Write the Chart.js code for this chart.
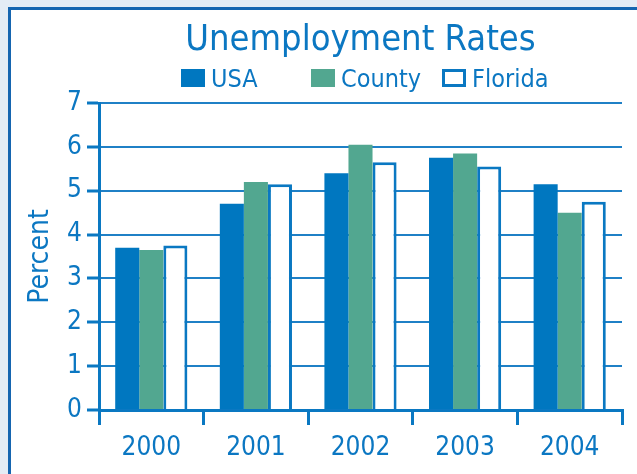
<!DOCTYPE html>
<html><head><meta charset="utf-8">
<script src="https://cdn.jsdelivr.net/npm/chart.js@4"></script>
<style>
html,body{margin:0;padding:0;background:#e4ecf5;overflow:hidden}
#wrap{position:absolute;left:0;top:0;width:637px;height:474px}
</style></head>
<body><div id="wrap"><canvas id="c" width="637" height="474"></canvas></div>
<script>
const categories = ['2000','2001','2002','2003','2004'];
const seriesNames = ['USA','County','Florida'];
const usaValues = [3.7, 4.7, 5.4, 5.75, 5.15];
const countyValues = [3.65, 5.2, 6.05, 5.85, 4.5];
const floridaValues = [3.75, 5.15, 5.65, 5.55, 4.75];
const yTickValues = [0,1,2,3,4,5,6,7];
const titleText = 'Unemployment Rates';
const yAxisTitle = 'Percent';

const FONT = "'Liberation Sans Narrow', 'DejaVu Sans Condensed', 'Arial Narrow', sans-serif";
const BLUE = '#0a78c2';
const TEXT = '#0b77c2';
const USA_C = '#0077c0';
const COUNTY_C = '#52a790';

const bgPlugin = {
  id: 'bg',
  beforeDraw(chart) {
    const c = chart.ctx;
    c.save();
    c.fillStyle = '#e4ecf5';
    c.fillRect(0, 0, chart.width, chart.height);
    c.fillStyle = '#ffffff';
    c.fillRect(9, 8, chart.width, chart.height);
    c.strokeStyle = '#1565b0';
    c.lineWidth = 3;
    c.beginPath();
    c.moveTo(9.5, chart.height);
    c.lineTo(9.5, 8.5);
    c.lineTo(chart.width, 8.5);
    c.stroke();
    c.restore();
  }
};

const legendPlugin = {
  id: 'customLegend',
  afterDraw(chart) {
    const c = chart.ctx;
    const a = chart.chartArea;
    const offsets = [82, 212, 343];
    c.save();
    c.font = '25px ' + FONT;
    c.textBaseline = 'alphabetic';
    c.textAlign = 'left';
    chart.data.datasets.forEach((ds, i) => {
      const x = a.left + offsets[i];
      const y = 69;
      if (i === 2) {
        c.fillStyle = '#fff';
        c.fillRect(x, y, 24, 18);
        c.strokeStyle = BLUE;
        c.lineWidth = 3;
        c.strokeRect(x + 1.5, y + 1.5, 21, 15);
      } else {
        c.fillStyle = ds.backgroundColor;
        c.fillRect(x, y, 24, 18);
      }
      c.fillStyle = TEXT;
      c.fillText(ds.label, x + 30, 87);
    });
    c.restore();
  }
};

new Chart(document.getElementById('c'), {
  type: 'bar',
  data: {
    labels: categories,
    datasets: [
      { label: seriesNames[0], data: usaValues, backgroundColor: USA_C, borderWidth: 0 },
      { label: seriesNames[1], data: countyValues, backgroundColor: COUNTY_C, borderWidth: 0 },
      { label: seriesNames[2], data: floridaValues, backgroundColor: '#ffffff', borderColor: BLUE, borderWidth: 3, borderSkipped: 'start' }
    ]
  },
  options: {
    responsive: false,
    animation: false,
    devicePixelRatio: 1,
    layout: { padding: { left: 14, right: 15, top: 23, bottom: 0 } },
    datasets: { bar: { categoryPercentage: 0.69, barPercentage: 1.0 } },
    plugins: {
      legend: { display: false },
      tooltip: { enabled: false },
      title: {
        display: true,
        text: titleText,
        fullSize: false,
        color: TEXT,
        font: { family: FONT, size: 36, weight: 'normal', lineHeight: 1.0 },
        padding: { top: 0, bottom: 44 }
      }
    },
    scales: {
      x: {
        z: 1,
        offset: true,
        grid: {
          offset: true,
          drawOnChartArea: true,
          color: (ctx) => (ctx.index === categories.length ? BLUE : 'rgba(0,0,0,0)'),
          tickColor: BLUE,
          lineWidth: 3,
          tickLength: 15,
          tickWidth: 3
        },
        border: { display: true, color: BLUE, width: 3 },
        ticks: { color: TEXT, font: { family: FONT, size: 26 }, padding: 8, maxRotation: 0 },
        afterFit(scale) { scale.height = 64; }
      },
      y: {
        min: 0, max: 7,
        afterBuildTicks(scale) { scale.ticks = yTickValues.map(v => ({ value: v })); },
        grid: { color: '#1f80c6', lineWidth: 2, tickColor: BLUE, tickLength: 12, tickWidth: 3 },
        border: { display: true, color: BLUE, width: 3 },
        ticks: { color: TEXT, font: { family: FONT, size: 26 }, padding: 5 },
        title: { display: true, text: yAxisTitle, color: TEXT, font: { family: FONT, size: 28, lineHeight: 1.2 }, padding: { top: 10, bottom: 0 } },
        afterFit(scale) { scale.width = 85; }
      }
    }
  },
  plugins: [bgPlugin, legendPlugin]
});
</script>
</body></html>
